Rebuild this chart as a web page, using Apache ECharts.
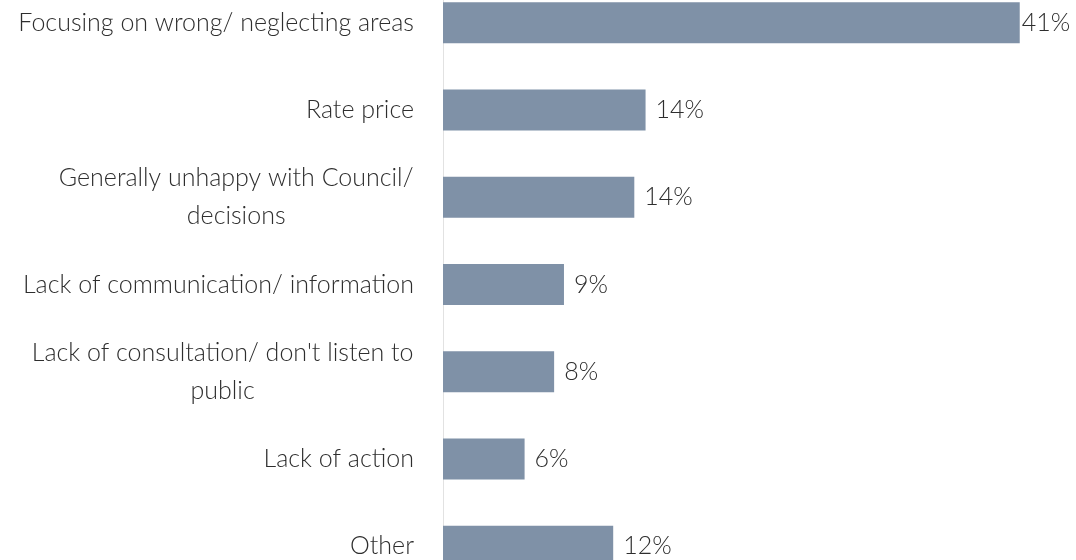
<!DOCTYPE html>
<html>
<head>
<meta charset="utf-8">
<script src="https://cdn.jsdelivr.net/npm/echarts@6/dist/echarts.min.js"></script>
<style>
html,body{margin:0;padding:0;background:#fff;overflow:hidden;width:1076px;height:560px;position:relative;}
#chart{position:absolute;left:0;top:-21px;width:1076px;height:611px;}
</style>
</head>
<body>
<div id="chart"></div>
<script>
const categories = [
  "Focusing on wrong/ neglecting areas",
  "Rate price",
  "Generally unhappy with Council/\ndecisions",
  "Lack of communication/ information",
  "Lack of consultation/ don't listen to\npublic",
  "Lack of action",
  "Other"
];
const values = [41, 14.4, 13.6, 8.6, 7.9, 5.8, 12.1];

const FONT_FAMILY = "Lato, 'Noto Sans', sans-serif";
const FONT_WEIGHT = 300;
const FONT_SIZE = 25;
const TEXT_COLOR = '#2e2e2e';
const BAR_COLOR = '#7f91a7';

// measure text to center wrapped lines within their block
const ctx = document.createElement('canvas').getContext('2d');
ctx.font = FONT_WEIGHT + ' ' + FONT_SIZE + 'px ' + FONT_FAMILY;
const rich = {};
const labelMap = {};
categories.forEach((c, i) => {
  const lines = c.split('\n');
  if (lines.length > 1) {
    const w = Math.max.apply(null, lines.map(l => ctx.measureText(l).width)) + 1;
    rich['r' + i] = {
      width: w, align: 'center', fontSize: FONT_SIZE, fontFamily: FONT_FAMILY,
      fontWeight: FONT_WEIGHT, color: TEXT_COLOR, lineHeight: 38
    };
    labelMap[c] = lines.map(l => '{r' + i + '|' + l + '}').join('\n');
  } else {
    labelMap[c] = c;
  }
});

const chart = echarts.init(document.getElementById('chart'), null, {renderer: 'canvas'});
chart.setOption({
  animation: false,
  backgroundColor: '#ffffff',
  grid: {left: 443, right: -3, top: 0, bottom: 0, containLabel: false},
  xAxis: {
    type: 'value', min: 0, max: 45,
    show: false
  },
  yAxis: {
    type: 'category',
    data: categories,
    inverse: true,
    axisLine: {show: true, lineStyle: {color: '#e2e2e2', width: 1}},
    axisTick: {show: false},
    splitLine: {show: false},
    axisLabel: {
      margin: 29,
      fontSize: FONT_SIZE,
      fontFamily: FONT_FAMILY,
      fontWeight: FONT_WEIGHT,
      color: TEXT_COLOR,
      lineHeight: 38,
      align: 'right',
      formatter: v => labelMap[v],
      rich: rich
    }
  },
  series: [{
    type: 'bar',
    data: values.map((v, i) => ({
      value: v,
      label: i === 0 ? {distance: 2} : undefined
    })),
    barWidth: 41,
    itemStyle: {color: BAR_COLOR},
    label: {
      show: true,
      position: 'right',
      distance: 10,
      fontSize: FONT_SIZE,
      fontFamily: FONT_FAMILY,
      fontWeight: FONT_WEIGHT,
      color: TEXT_COLOR,
      formatter: p => Math.round(p.value) + '%'
    }
  }]
});
</script>
</body>
</html>
